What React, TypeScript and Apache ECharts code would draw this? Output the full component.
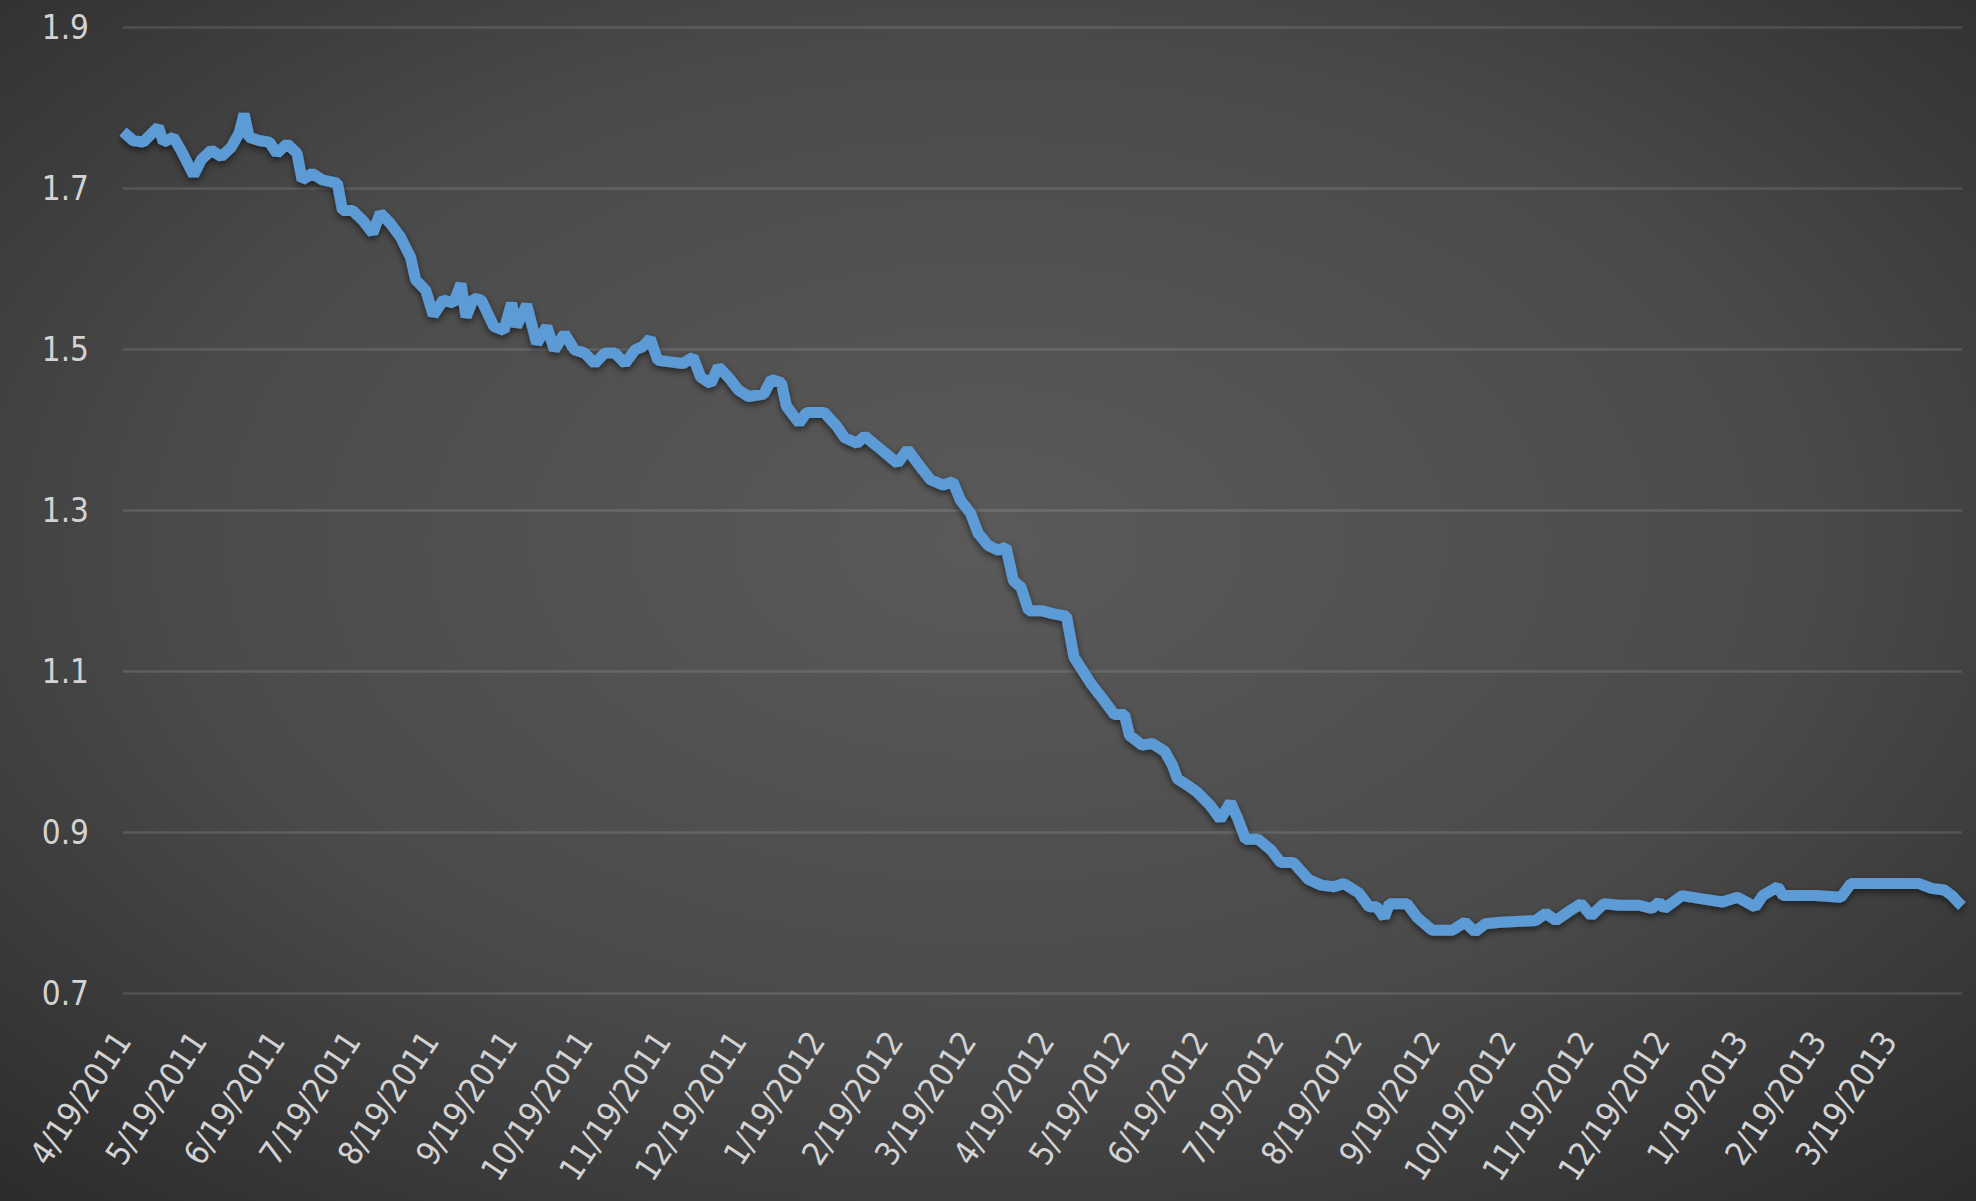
import React, { useEffect, useRef } from "react";
import * as echarts from "echarts";

const dates: string[] = [
  "4/19/2011", "4/23/2011", "4/27/2011", "5/3/2011", "5/5/2011", "5/9/2011", "5/12/2011", "5/17/2011",
  "5/20/2011", "5/24/2011", "5/28/2011", "6/1/2011", "6/4/2011", "6/6/2011", "6/8/2011", "6/12/2011",
  "6/16/2011", "6/19/2011", "6/23/2011", "6/27/2011", "6/29/2011", "7/3/2011", "7/7/2011", "7/13/2011",
  "7/15/2011", "7/19/2011", "7/23/2011", "7/27/2011", "7/30/2011", "8/3/2011", "8/7/2011", "8/11/2011",
  "8/13/2011", "8/17/2011", "8/20/2011", "8/24/2011", "8/28/2011", "8/31/2011", "9/2/2011", "9/5/2011",
  "9/8/2011", "9/13/2011", "9/17/2011", "9/20/2011", "9/22/2011", "9/26/2011", "9/30/2011", "10/4/2011",
  "10/7/2011", "10/11/2011", "10/15/2011", "10/19/2011", "10/23/2011", "10/27/2011", "10/31/2011", "11/4/2011",
  "11/8/2011", "11/11/2011", "11/14/2011", "11/17/2011", "11/22/2011", "11/27/2011", "12/1/2011", "12/4/2011",
  "12/8/2011", "12/11/2011", "12/15/2011", "12/19/2011", "12/23/2011", "12/29/2011", "1/1/2012", "1/5/2012",
  "1/7/2012", "1/12/2012", "1/15/2012", "1/22/2012", "1/27/2012", "1/30/2012", "2/4/2012", "2/7/2012",
  "2/12/2012", "2/20/2012", "2/24/2012", "2/29/2012", "3/4/2012", "3/9/2012", "3/13/2012", "3/16/2012",
  "3/20/2012", "3/23/2012", "3/27/2012", "3/31/2012", "4/3/2012", "4/6/2012", "4/9/2012", "4/12/2012",
  "4/17/2012", "4/22/2012", "4/27/2012", "4/30/2012", "5/7/2012", "5/11/2012", "5/16/2012", "5/20/2012",
  "5/22/2012", "5/27/2012", "5/31/2012", "6/5/2012", "6/8/2012", "6/10/2012", "6/14/2012", "6/18/2012",
  "6/23/2012", "6/27/2012", "7/1/2012", "7/4/2012", "7/7/2012", "7/12/2012", "7/17/2012", "7/21/2012",
  "7/26/2012", "8/1/2012", "8/6/2012", "8/11/2012", "8/15/2012", "8/21/2012", "8/25/2012", "8/28/2012",
  "8/31/2012", "9/2/2012", "9/9/2012", "9/13/2012", "9/19/2012", "9/27/2012", "10/2/2012", "10/6/2012",
  "10/10/2012", "10/16/2012", "10/30/2012", "11/3/2012", "11/7/2012", "11/12/2012", "11/17/2012", "11/21/2012",
  "11/26/2012", "12/2/2012", "12/10/2012", "12/15/2012", "12/18/2012", "12/20/2012", "12/27/2012", "1/4/2013",
  "1/12/2013", "1/18/2013", "1/25/2013", "1/28/2013", "2/3/2013", "2/5/2013", "2/18/2013", "2/28/2013",
  "3/4/2013", "3/18/2013", "3/31/2013", "4/5/2013", "4/10/2013", "4/13/2013", "4/16/2013", "4/17/2013",
];

const values: number[] = [
  1.770, 1.759, 1.757, 1.776, 1.757, 1.763, 1.747, 1.716,
  1.735, 1.747, 1.739, 1.751, 1.768, 1.792, 1.763, 1.759,
  1.757, 1.743, 1.755, 1.743, 1.710, 1.718, 1.710, 1.706,
  1.672, 1.672, 1.660, 1.644, 1.669, 1.656, 1.639, 1.614,
  1.586, 1.573, 1.542, 1.561, 1.557, 1.581, 1.540, 1.563,
  1.561, 1.528, 1.523, 1.557, 1.528, 1.555, 1.507, 1.528,
  1.499, 1.519, 1.499, 1.495, 1.482, 1.495, 1.495, 1.482,
  1.499, 1.503, 1.513, 1.486, 1.484, 1.482, 1.490, 1.465,
  1.457, 1.478, 1.465, 1.449, 1.441, 1.444, 1.462, 1.458,
  1.429, 1.408, 1.421, 1.421, 1.404, 1.390, 1.383, 1.392,
  1.379, 1.358, 1.375, 1.354, 1.338, 1.331, 1.335, 1.312,
  1.296, 1.271, 1.256, 1.250, 1.254, 1.212, 1.204, 1.175,
  1.175, 1.171, 1.168, 1.117, 1.083, 1.067, 1.046, 1.046,
  1.020, 1.008, 1.010, 1.000, 0.983, 0.966, 0.958, 0.949,
  0.933, 0.916, 0.937, 0.916, 0.891, 0.891, 0.878, 0.862,
  0.862, 0.841, 0.834, 0.832, 0.836, 0.824, 0.807, 0.807,
  0.794, 0.811, 0.811, 0.794, 0.778, 0.778, 0.788, 0.776,
  0.786, 0.788, 0.790, 0.799, 0.790, 0.801, 0.811, 0.796,
  0.811, 0.809, 0.809, 0.805, 0.813, 0.805, 0.821, 0.817,
  0.813, 0.819, 0.807, 0.821, 0.832, 0.821, 0.821, 0.819,
  0.836, 0.836, 0.836, 0.830, 0.828, 0.821, 0.811, 0.808,
];

const yTicks: number[] = [0.7, 0.9, 1.1, 1.3, 1.5, 1.7, 1.9];
const axisStart = "4/19/2011";
const axisEnd = "4/17/2013";
const labelDay = 19;

function parseMDY(s: string): Date {
  const [m, d, y] = s.split("/").map(Number);
  return new Date(y, m - 1, d, 12);
}

function buildCategories(): string[] {
  const out: string[] = [];
  const d = parseMDY(axisStart);
  const end = parseMDY(axisEnd);
  while (d.getTime() <= end.getTime()) {
    out.push(`${d.getMonth() + 1}/${d.getDate()}/${d.getFullYear()}`);
    d.setDate(d.getDate() + 1);
  }
  return out;
}

const FONT = "'Liberation Sans Narrow', 'DejaVu Sans Condensed', 'Open Sans', sans-serif";

export default function App() {
  const ref = useRef<HTMLDivElement>(null);

  useEffect(() => {
    document.body.style.margin = "0";
    if (!ref.current) return;
    const chart = echarts.init(ref.current, undefined, { renderer: "svg" });
    const categories = buildCategories();
    chart.setOption({
      animation: false,
      backgroundColor: {
        type: "radial",
        x: 0.5,
        y: 0.45,
        r: 0.75,
        colorStops: [
          { offset: 0, color: "#5a5a5a" },
          { offset: 0.55, color: "#4a4a4a" },
          { offset: 1, color: "#2b2b2b" },
        ],
      },
      grid: {
        left: 123,
        right: 14,
        top: 27,
        bottom: 208,
        containLabel: false,
        outerBoundsMode: "none",
      },
      xAxis: {
        type: "category",
        data: categories,
        boundaryGap: false,
        axisLine: { show: false },
        axisTick: { show: false },
        splitLine: { show: false },
        axisLabel: {
          interval: (_i: number, v: string) => Number(v.split("/")[1]) === labelDay,
          rotate: 56,
          margin: 42,
          color: "#d3d3d3",
          fontSize: 33,
          fontFamily: FONT,
          hideOverlap: false,
        },
      },
      yAxis: {
        type: "value",
        min: 0.7,
        max: 1.9,
        axisLine: { show: false },
        axisTick: { show: false, customValues: yTicks },
        axisLabel: {
          customValues: yTicks,
          formatter: (v: number) => v.toFixed(1),
          color: "#d3d3d3",
          fontSize: 33,
          margin: 34,
          fontFamily: FONT,
        },
        splitLine: { show: true, lineStyle: { color: "rgba(255,255,255,0.12)", width: 2.5 } },
      },
      series: [
        {
          type: "line",
          data: dates.map((d, i) => [d, values[i]]),
          showSymbol: false,
          lineStyle: {
            color: "#5B9BD5",
            width: 11,
            shadowColor: "rgba(0,0,0,0.55)",
            shadowBlur: 7,
            shadowOffsetY: 3,
          },
          itemStyle: { color: "#5B9BD5" },
        },
      ],
    });
    return () => chart.dispose();
  }, []);

  return <div ref={ref} style={{ width: 1976, height: 1201 }} />;
}
